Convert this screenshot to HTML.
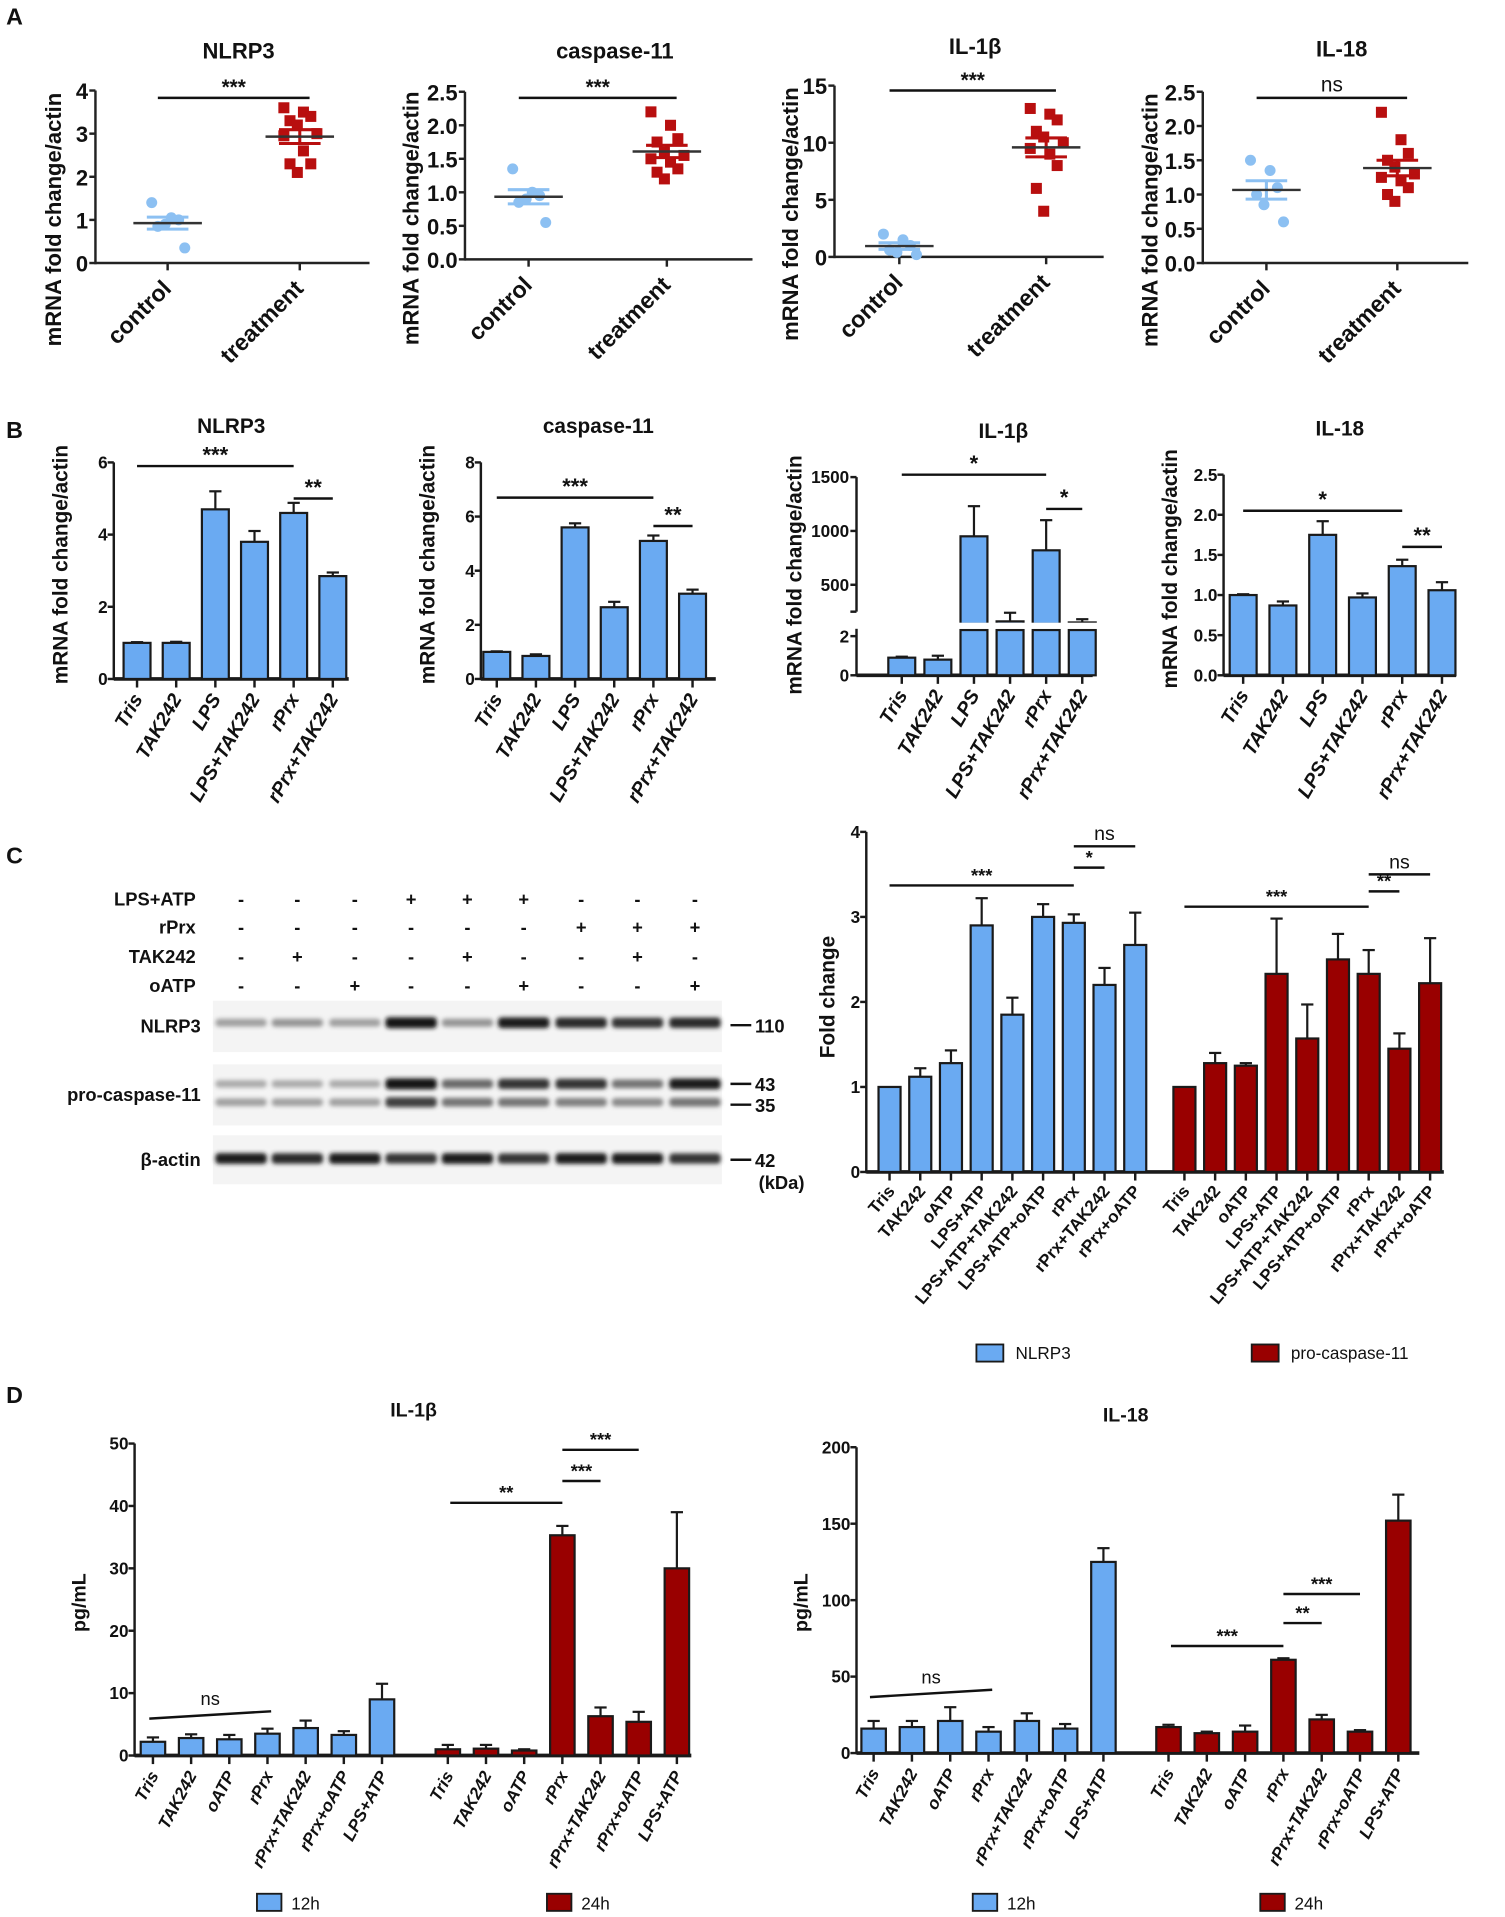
<!DOCTYPE html>
<html><head><meta charset="utf-8">
<style>
html,body{margin:0;padding:0;background:#fff;}
svg{display:block;font-family:"Liberation Sans",Arial,sans-serif;}
text{font-family:"Liberation Sans",Arial,sans-serif;}
</style></head>
<body>
<svg id="fig" xmlns="http://www.w3.org/2000/svg" width="1505" height="1917" viewBox="0 0 1230 1567" preserveAspectRatio="none">
<defs>
<filter id="blur" x="-20%" y="-100%" width="140%" height="300%"><feGaussianBlur stdDeviation="1.8"/></filter>
</defs>
</svg>
<script>
// ---------- Panel A data ----------
const aTitles = ["NLRP3","caspase-11","IL-1β","IL-18"];
const aGroups = ["control","treatment"];
const aNlrpCtrl = [1.4,1.05,1.0,0.85,0.9,0.35];
const aNlrpTrt = [3.6,3.5,3.4,3.3,3.2,3.0,2.95,2.6,2.3,2.3,2.1];
const aCaspCtrl = [1.35,1.0,0.95,0.85,0.9,0.55];
const aCaspTrt = [2.2,2.0,1.8,1.75,1.6,1.55,1.5,1.45,1.35,1.3,1.2];
const aIl1Ctrl = [2.0,1.5,1.0,0.6,0.4,0.2];
const aIl1Trt = [13,12.5,12,11,10.5,10,9.5,9,8,6,4];
const aIl18Ctrl = [1.5,1.35,1.1,1.0,0.85,0.6];
const aIl18Trt = [2.2,1.8,1.6,1.5,1.4,1.3,1.25,1.2,1.1,1.0,0.9];
const aTicksNlrp = [0,1,2,3,4];
const aTicksCasp = [0,0.5,1,1.5,2,2.5];
const aTicksIl1 = [0,5,10,15];
const aTicksIl18 = [0,0.5,1,1.5,2,2.5];
const aSig = ["***","***","***","ns"];
// ---------- Panel B data ----------
const bCats = ["Tris","TAK242","LPS","LPS+TAK242","rPrx","rPrx+TAK242"];
const bNlrp = [1.0,1.0,4.7,3.8,4.6,2.85];
const bNlrpErr = [0.02,0.03,0.5,0.3,0.28,0.1];
const bCasp = [1.0,0.85,5.6,2.65,5.1,3.15];
const bCaspErr = [0.02,0.06,0.15,0.2,0.2,0.15];
const bIl1 = [0.9,0.8,950,160,820,150];
const bIl1Err = [0.05,0.2,280,80,280,30];
const bIl18 = [1.0,0.87,1.75,0.97,1.36,1.06];
const bIl18Err = [0.01,0.05,0.17,0.05,0.08,0.1];
const bTicksNlrp = [0,2,4,6];
const bTicksCasp = [0,2,4,6,8];
const bTicksIl1Low = [0,2];
const bTicksIl1High = [500,1000,1500];
const bTicksIl18 = [0,0.5,1,1.5,2,2.5];
// ---------- Panel C data ----------
const cCats = ["Tris","TAK242","oATP","LPS+ATP","LPS+ATP+TAK242","LPS+ATP+oATP","rPrx","rPrx+TAK242","rPrx+oATP"];
const cNlrp = [1.0,1.12,1.28,2.9,1.85,3.0,2.93,2.2,2.67];
const cNlrpErr = [0,0.1,0.15,0.32,0.2,0.15,0.1,0.2,0.38];
const cCasp = [1.0,1.28,1.25,2.33,1.57,2.5,2.33,1.45,2.22];
const cCaspErr = [0,0.12,0.03,0.65,0.4,0.3,0.28,0.18,0.53];
const cTicks = [0,1,2,3,4];
const blotRows = ["LPS+ATP","rPrx","TAK242","oATP"];
const blotLPS = ["-","-","-","+","+","+","-","-","-"];
const blotRPrx = ["-","-","-","-","-","-","+","+","+"];
const blotTAK = ["-","+","-","-","+","-","-","+","-"];
const blotOATP = ["-","-","+","-","-","+","-","-","+"];
const bandNlrp = [0.35,0.4,0.35,1.0,0.4,0.95,0.9,0.85,0.9];
const bandCasp43 = [0.3,0.3,0.3,1.0,0.6,0.85,0.85,0.55,0.95];
const bandCasp35 = [0.35,0.35,0.35,0.8,0.55,0.55,0.5,0.45,0.55];
const bandActin = [0.95,0.9,0.95,0.85,0.95,0.85,0.95,0.95,0.85];
// ---------- Panel D data ----------
const dCats = ["Tris","TAK242","oATP","rPrx","rPrx+TAK242","rPrx+oATP","LPS+ATP"];
const dIl1Blue = [2.2,2.8,2.6,3.5,4.4,3.3,9.0];
const dIl1BlueErr = [0.7,0.6,0.7,0.8,1.2,0.6,2.5];
const dIl1Red = [1.0,1.1,0.8,35.3,6.3,5.4,30.0];
const dIl1RedErr = [0.7,0.6,0.2,1.5,1.4,1.6,9.0];
const dIl18Blue = [16,17,21,14,21,16,125];
const dIl18BlueErr = [5,4,9,3,5,3,9];
const dIl18Red = [17,13,14,61,22,14,152];
const dIl18RedErr = [1.5,1,4,1,3,1,17];
const dTicksIl1 = [0,10,20,30,40,50];
const dTicksIl18 = [0,50,100,150,200];

const BLUE="#6aaaf2", RED="#990000", PTB="#8cc0f2", PTR="#b80f0f";
const S=document.getElementById('fig');
const NS="http://www.w3.org/2000/svg";
function mk(tag,attrs,parent){const e=document.createElementNS(NS,tag);for(const k in attrs)e.setAttribute(k,attrs[k]);(parent||S).appendChild(e);return e;}
function txt(s,x,y,size,opts,parent){opts=opts||{};const e=mk('text',{x:x,y:y,'font-size':size,'font-weight':opts.w||'bold','text-anchor':opts.a||'middle',fill:opts.fill||'#111'},parent);if(opts.i)e.setAttribute('font-style','italic');if(opts.rot!==undefined)e.setAttribute('transform','rotate('+opts.rot+' '+x+' '+y+')');e.textContent=s;return e;}
function scale(min,max,y0,yt){return v=>y0-(v-min)/(max-min)*(y0-yt);}
function sig(label,x1,x2,y,g,size){const l=mk('line',{x1:x1,x2:x2,y1:y,y2:y,stroke:'#111','stroke-width':2},g);const t=txt(label,(x1+x2)/2,y-(label==='ns'?5:3),size||16,{w:label==='ns'?'normal':'bold'},g);}

// panel letters
[["A",5,20],["B",5,358],["C",5,706],["D",5,1147]].forEach(p=>{const t=txt(p[0],p[1],p[2],19,{a:'start'});});

// ---------- Panel A ----------
function scatter(o){
 const g=mk('g',{});
 const y=scale(0,o.max,o.y0,o.yt);
 mk('line',{x1:o.ax,x2:o.ax,y1:o.yt,y2:o.y0+1,stroke:'#222','stroke-width':2},g);
 mk('line',{x1:o.ax,x2:o.xe,y1:o.y0,y2:o.y0,stroke:'#222','stroke-width':2},g);
 o.ticks.forEach(v=>{mk('line',{x1:o.ax-5,x2:o.ax,y1:y(v),y2:y(v),stroke:'#222','stroke-width':2},g);const t=txt(o.fmt(v),o.ax-6,y(v)+7,18,{a:'end'},g);});
 const tt=txt(o.title,(o.ax+o.xe)/2+5,o.ty,18,{},g);
 const yl=txt('mRNA fold change/actin',o.lx,(o.yt+o.y0)/2+35,18,{rot:-90},g);
 [o.ctrl,o.trt].forEach((arr,gi)=>{
  const cx=o.cx[gi];
  mk('line',{x1:cx,x2:cx,y1:o.y0,y2:o.y0+6,stroke:'#222','stroke-width':2},g);
  const lab=txt(aGroups[gi],cx+4,o.y0+22,19,{a:'end',rot:-45},g);
  arr.forEach((v,i)=>{const off=((i%3)-1)*11+(i%2?3:-2);let p;
   if(gi===0){p=mk('circle',{cx:cx+off,cy:y(v),r:4.5,fill:PTB},g);}else{p=mk('rect',{x:cx+off-4.5,y:y(v)-4.5,width:9,height:9,fill:PTR},g);}
   });
  const m=arr.reduce((a,b)=>a+b,0)/arr.length;
  const sd=Math.sqrt(arr.reduce((a,b)=>a+(b-m)*(b-m),0)/(arr.length-1));const se=sd/Math.sqrt(arr.length);
  const col=gi===0?PTB:PTR;
  [m+se,m-se].forEach(v=>{const l=mk('line',{x1:cx-17,x2:cx+17,y1:y(v),y2:y(v),stroke:col,'stroke-width':2.5},g);});
  mk('line',{x1:cx,x2:cx,y1:y(m+se),y2:y(m-se),stroke:col,'stroke-width':2.5},g);
  const ml=mk('line',{x1:cx-28,x2:cx+28,y1:y(m),y2:y(m),stroke:'#333','stroke-width':2},g);
 });
 sig(o.sig,o.cx[0]-8,o.cx[1]+8,o.sy,g,17);
}
scatter({name:'chart-a-nlrp3',title:aTitles[0],ax:78,xe:302,y0:215,yt:74,max:4,ticks:aTicksNlrp,fmt:v=>v,cx:[137,245],ctrl:aNlrpCtrl,trt:aNlrpTrt,sig:aSig[0],sy:80,ty:48,lx:50});
scatter({name:'chart-a-caspase11',title:aTitles[1],ax:380,xe:615,y0:212,yt:75,max:2.5,ticks:aTicksCasp,fmt:v=>v.toFixed(1),cx:[432,545],ctrl:aCaspCtrl,trt:aCaspTrt,sig:aSig[1],sy:80,ty:48,lx:342});
scatter({name:'chart-a-il1b',title:aTitles[2],ax:682,xe:902,y0:210,yt:70,max:15,ticks:aTicksIl1,fmt:v=>v,cx:[735,855],ctrl:aIl1Ctrl,trt:aIl1Trt,sig:aSig[2],sy:74,ty:44,lx:652});
scatter({name:'chart-a-il18',title:aTitles[3],ax:983,xe:1200,y0:215,yt:75,max:2.5,ticks:aTicksIl18,fmt:v=>v.toFixed(1),cx:[1035,1142],ctrl:aIl18Ctrl,trt:aIl18Trt,sig:aSig[3],sy:80,ty:46,lx:946});

// ---------- generic bar helper ----------
function bar(g,cx,w,ytop,ybase,val,err,y,col,name){
 const r=mk('rect',{x:cx-w/2,y:ytop,width:w,height:Math.max(0,ybase-ytop),fill:col,stroke:'#1a1a1a','stroke-width':1.8},g);
 
 if(err>0){const ye=y(val+err);mk('line',{x1:cx,x2:cx,y1:ytop,y2:ye,stroke:'#1a1a1a','stroke-width':1.8},g);mk('line',{x1:cx-5,x2:cx+5,y1:ye,y2:ye,stroke:'#1a1a1a','stroke-width':1.8},g);}
}
function axes(g,ax,xe,y0,yt,ticks,y,fmt,fs){
 mk('line',{x1:ax,x2:ax,y1:yt,y2:y0+1,stroke:'#1a1a1a','stroke-width':2},g);
 mk('line',{x1:ax,x2:xe,y1:y0,y2:y0,stroke:'#1a1a1a','stroke-width':3},g);
 ticks.forEach(v=>{mk('line',{x1:ax-5,x2:ax,y1:y(v),y2:y(v),stroke:'#1a1a1a','stroke-width':2},g);const t=txt(fmt(v),ax-5,y(v)+5,fs||14,{a:'end'},g);});
}
function xlabels(g,cats,xs,y0,fs,rot){cats.forEach((c,i)=>{mk('line',{x1:xs[i],x2:xs[i],y1:y0,y2:y0+7,stroke:'#1a1a1a','stroke-width':2},g);const t=txt(c,xs[i]+5,y0+16,fs,{a:'end',rot:rot,i:true},g);});}

// ---------- Panel B ----------
function bChart(o){
 const g=mk('g',{});
 const y=scale(0,o.max,o.y0,o.yt);
 const xs=bCats.map((c,i)=>o.x1+i*o.dx);
 axes(g,o.ax,o.xe,o.y0,o.yt,o.ticks,y,o.fmt,14);
 o.vals.forEach((v,i)=>bar(g,xs[i],22,y(v),o.y0,v,o.errs[i],y,BLUE,'bar-'+bCats[i].toLowerCase()));
 xlabels(g,bCats,xs,o.y0,16,-60);
 const tt=txt(o.title,(o.ax+o.xe)/2,o.ty,17,{},g);
 const yl=txt('mRNA fold change/actin',o.ax-38,(o.yt+o.y0)/2-5,17,{rot:-90},g);
 sig(o.s1,xs[0],xs[4],y(o.s1v),g,18);sig(o.s2,xs[4],xs[5],y(o.s2v),g,18);
}
bChart({name:'chart-b-nlrp3',title:'NLRP3',ax:93,xe:285,y0:555,yt:378,max:6,ticks:bTicksNlrp,fmt:v=>v,x1:112,dx:32,vals:bNlrp,errs:bNlrpErr,s1:'***',s1v:5.9,s2:'**',s2v:5.0,ty:354});
bChart({name:'chart-b-caspase11',title:'caspase-11',ax:393,xe:585,y0:555,yt:378,max:8,ticks:bTicksCasp,fmt:v=>v,x1:406,dx:32,vals:bCasp,errs:bCaspErr,s1:'***',s1v:6.7,s2:'**',s2v:5.65,ty:354});
bChart({name:'chart-b-il18',title:'IL-18',ax:1000,xe:1190,y0:552,yt:388,max:2.5,ticks:bTicksIl18,fmt:v=>v.toFixed(1),x1:1016,dx:32.5,vals:bIl18,errs:bIl18Err,s1:'*',s1v:2.05,s2:'**',s2v:1.6,ty:356});
// IL-1b broken axis
(function(){
 const g=mk('g',{});
 const ax=700,xe=893,y0=552;
 const yl=scale(0,2,552,520), yh=scale(0,1500,522,390);
 const xs=bCats.map((c,i)=>737+i*29.5);
 mk('line',{x1:ax,x2:ax,y1:514,y2:553,stroke:'#1a1a1a','stroke-width':2},g);
 mk('line',{x1:ax,x2:ax,y1:390,y2:500,stroke:'#1a1a1a','stroke-width':2},g);
 mk('line',{x1:ax-5,x2:ax,y1:500,y2:500,stroke:'#1a1a1a','stroke-width':2},g);
 mk('line',{x1:ax,x2:xe,y1:y0,y2:y0,stroke:'#1a1a1a','stroke-width':3},g);
 bTicksIl1Low.forEach(v=>{mk('line',{x1:ax-5,x2:ax,y1:yl(v),y2:yl(v),stroke:'#1a1a1a','stroke-width':2},g);const t=txt(v,ax-6,yl(v)+5,14,{a:'end'},g);});
 bTicksIl1High.forEach(v=>{mk('line',{x1:ax-5,x2:ax,y1:yh(v),y2:yh(v),stroke:'#1a1a1a','stroke-width':2},g);const t=txt(v,ax-6,yh(v)+5,14,{a:'end'},g);});
 bIl1.forEach((v,i)=>{
  if(v<=2){bar(g,xs[i],22,yl(v),y0,v,bIl1Err[i],yl,BLUE,'bar-'+bCats[i].toLowerCase());}
  else{bar(g,xs[i],22,yh(v),510,v,bIl1Err[i],yh,BLUE,'bar-'+bCats[i].toLowerCase());
   const r=mk('rect',{x:xs[i]-11,y:515,width:22,height:37,fill:BLUE,stroke:'#1a1a1a','stroke-width':1.8},g);
   mk('rect',{x:xs[i]-13,y:509,width:26,height:5,fill:'#fff'},g);}
 });
 xlabels(g,bCats,xs,y0,16,-60);
 const tt=txt('IL-1β',820,358,17,{},g);
 const ylb=txt('mRNA fold change/actin',ax-45,470,17,{rot:-90},g);
 sig('*',xs[0],xs[4],388,g,18);sig('*',xs[4],xs[5],416,g,18);
})();

// ---------- Panel C blot ----------
(function(){
 const g=mk('g',{});
 const lx=[197,243,290,336,382,428,475,521,568];
 [blotLPS,blotRPrx,blotTAK,blotOATP].forEach((row,ri)=>{
  const yy=[735,758,782,806][ri];
  const t=txt(blotRows[ri],160,yy+5,15,{a:'end'},g);
  row.forEach((s,i)=>{const m=txt(s==='+'?'+':'-',lx[i],yy+5,15,{},g);});
 });
 const strips=[["NLRP3",818,860,[[bandNlrp,836]],"110"],["pro-caspase-11",870,920,[[bandCasp43,886],[bandCasp35,901]],""],["β-actin",928,968,[[bandActin,947]],"42"]];
 strips.forEach(s=>{
  const r=mk('rect',{x:174,y:s[1],width:416,height:s[2]-s[1],fill:'#f4f4f4'},g);
  const t=txt(s[0],164,(s[1]+s[2])/2+5,15,{a:'end'},g);
  s[3].forEach(b=>{b[0].forEach((inten,i)=>{const c=Math.round(235-215*inten);const e=mk('rect',{x:lx[i]-21,y:b[1]-2.5-inten*2,width:42,height:5+inten*4,rx:3,fill:'rgb('+c+','+c+','+c+')',filter:'url(#blur)'},g);});});
 });
 [[838,"110"],[886,"43"],[903,"35"],[948,"42"]].forEach(m=>{mk('line',{x1:597,x2:614,y1:m[0],y2:m[0],stroke:'#111','stroke-width':2},g);const t=txt(m[1],617,m[0]+6,15,{a:'start'},g);});
 const k=txt('(kDa)',620,972,15,{a:'start'},g);
})();

// ---------- Panel C chart ----------
(function(){
 const g=mk('g',{});
 const y=scale(0,4,958,680);
 axes(g,708,1180,958,680,cTicks,y,v=>v,14);
 const xb=cCats.map((c,i)=>727+i*25.1), xr=cCats.map((c,i)=>968+i*25.1);
 cNlrp.forEach((v,i)=>bar(g,xb[i],18,y(v),958,v,cNlrpErr[i],y,BLUE,'bar-nlrp3-'+cCats[i].toLowerCase()));
 cCasp.forEach((v,i)=>bar(g,xr[i],18,y(v),958,v,cCaspErr[i],y,RED,'bar-procasp11-'+cCats[i].toLowerCase()));
 xlabels(g,cCats,xb,958,14,-50);xlabels(g,cCats,xr,958,14,-50);
 g.querySelectorAll('text[font-style]').forEach(t=>t.setAttribute('font-style','normal'));
 const yl=txt('Fold change',682,815,17,{rot:-90},g);
 sig('***',xb[0],xb[6],y(3.37),g,15);sig('*',xb[6],xb[7],y(3.58),g,15);sig('ns',xb[6],xb[8],y(3.83),g,16);
 sig('***',xr[0],xr[6],y(3.12),g,15);sig('**',xr[6],xr[7],y(3.3),g,15);sig('ns',xr[6],xr[8],y(3.5),g,16);
 [[798,BLUE,'NLRP3'],[1023,RED,'pro-caspase-11']].forEach(l=>{const r=mk('rect',{x:l[0],y:1099,width:22,height:14,fill:l[1],stroke:'#1a1a1a','stroke-width':1.5},g);const t=txt(l[2],l[0]+32,1111,14,{a:'start',w:'normal'},g);});
})();

// ---------- Panel D ----------
function dChart(o){
 const g=mk('g',{});
 const y=scale(0,o.max,o.y0,o.yt);
 axes(g,o.ax,o.xe,o.y0,o.yt,o.ticks,y,v=>v,14);
 const xb=dCats.map((c,i)=>o.xb+i*o.dx), xr=dCats.map((c,i)=>o.xr+i*o.dx);
 o.blue.forEach((v,i)=>bar(g,xb[i],20,y(v),o.y0,v,o.blueErr[i],y,BLUE,'bar-12h-'+dCats[i].toLowerCase()));
 o.red.forEach((v,i)=>bar(g,xr[i],20,y(v),o.y0,v,o.redErr[i],y,RED,'bar-24h-'+dCats[i].toLowerCase()));
 xlabels(g,dCats,xb,o.y0,14,-62);xlabels(g,dCats,xr,o.y0,14,-62);
 const tt=txt(o.title,o.tx,o.ty,16,{},g);
 const yl=txt('pg/mL',o.ax-40,1310,16,{rot:-90},g);
 const ns=mk('line',{x1:xb[0]-3,x2:xb[3]+3,y1:y(o.nsv)+3,y2:y(o.nsv)-3,stroke:'#111','stroke-width':2},g);
 const nt=txt('ns',(xb[0]+xb[3])/2,y(o.nsv)-8,15,{w:'normal'},g);
 o.sigs.forEach(s=>sig(s[0],xr[s[1]]-(s[1]===0?-2:0),xr[s[2]],y(s[3]),g,15));
 [[o.lb,BLUE,'12h'],[o.lr,RED,'24h']].forEach(l=>{const r=mk('rect',{x:l[0],y:1548,width:20,height:14,fill:l[1],stroke:'#1a1a1a','stroke-width':1.5},g);const t=txt(l[2],l[0]+28,1561,14,{a:'start',w:'normal'},g);});
}
dChart({name:'chart-d-il1b',title:'IL-1β',tx:338,ty:1158,ax:110,xe:565,y0:1435,yt:1180,max:50,ticks:dTicksIl1,xb:125,xr:366,dx:31.2,blue:dIl1Blue,blueErr:dIl1BlueErr,red:dIl1Red,redErr:dIl1RedErr,nsv:6.5,sigs:[['**',0,3,40.5],['***',3,4,44],['***',3,5,49]],lb:210,lr:447});
dChart({name:'chart-d-il18',title:'IL-18',tx:920,ty:1162,ax:700,xe:1160,y0:1433,yt:1183,max:200,ticks:dTicksIl18,xb:714,xr:955,dx:31.3,blue:dIl18Blue,blueErr:dIl18BlueErr,red:dIl18Red,redErr:dIl18RedErr,nsv:39,sigs:[['***',0,3,70],['**',3,4,85],['***',3,5,104]],lb:795,lr:1030});
</script>
</body></html>
